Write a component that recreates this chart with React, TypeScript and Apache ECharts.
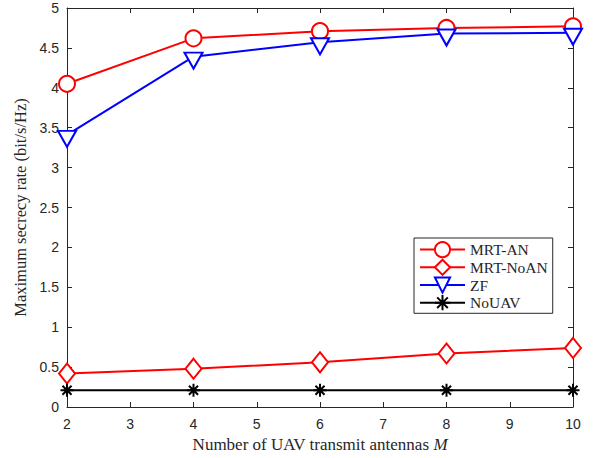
import React, { useEffect, useRef } from "react";
import * as echarts from "echarts";

// Number of UAV transmit antennas
const antennas = [2, 4, 6, 8, 10];

// Maximum secrecy rate (bit/s/Hz) per scheme
const mrtAN = [4.05, 4.62, 4.71, 4.75, 4.77];
const mrtNoAN = [0.42, 0.48, 0.56, 0.67, 0.74];
const zf = [3.41, 4.39, 4.57, 4.68, 4.69];
const noUAV = [0.21, 0.21, 0.21, 0.21, 0.21];

const seriesNames = ["MRT-AN", "MRT-NoAN", "ZF", "NoUAV"];

const AXIS_COLOR = "#262626";
const SANS = "'Liberation Sans', Arial, Helvetica, sans-serif";
const SERIF = "'Liberation Serif', 'Times New Roman', serif";

// Six-armed asterisk marker drawn as strokes
const ASTERISK =
  "path://M0,-10L0,10M-10,0L10,0M-7,-7L7,7M-7,7L7,-7";

const pairs = (ys: number[]) => antennas.map((x, i) => [x, ys[i]]);

export default function App() {
  const ref = useRef<HTMLDivElement>(null);

  useEffect(() => {
    if (!ref.current) return;
    const chart = echarts.init(ref.current, undefined, { renderer: "svg" });

    const tickAxisCommon = {
      axisLine: { show: true, onZero: false, lineStyle: { color: AXIS_COLOR, width: 1 } },
      axisTick: { show: true, inside: true, length: 5, lineStyle: { color: AXIS_COLOR } },
      splitLine: { show: false },
    };

    chart.setOption({
      animation: false,
      backgroundColor: "#ffffff",
      grid: { left: 67, right: 22, top: 8, bottom: 50, containLabel: false },
      xAxis: [
        {
          type: "value",
          min: 2,
          max: 10,
          interval: 1,
          position: "bottom",
          ...tickAxisCommon,
          axisLabel: { color: AXIS_COLOR, fontFamily: SANS, fontSize: 14, margin: 10 },
          name: "Number of UAV transmit antennas {i|M}",
          nameLocation: "middle",
          nameGap: 29,
          nameTextStyle: {
            color: AXIS_COLOR,
            fontFamily: SERIF,
            fontSize: 17,
            rich: { i: { fontFamily: SERIF, fontSize: 17, fontStyle: "italic", color: AXIS_COLOR } },
          },
        },
        {
          type: "value",
          min: 2,
          max: 10,
          interval: 1,
          position: "top",
          ...tickAxisCommon,
          axisLabel: { show: false },
        },
      ],
      yAxis: [
        {
          type: "value",
          min: 0,
          max: 5,
          interval: 0.5,
          position: "left",
          ...tickAxisCommon,
          axisLabel: { color: AXIS_COLOR, fontFamily: SANS, fontSize: 14, margin: 8 },
          name: "Maximum secrecy rate (bit/s/Hz)",
          nameLocation: "middle",
          nameGap: 34,
          nameTextStyle: { color: AXIS_COLOR, fontFamily: SERIF, fontSize: 16.5 },
        },
        {
          type: "value",
          min: 0,
          max: 5,
          interval: 0.5,
          position: "right",
          ...tickAxisCommon,
          axisLabel: { show: false },
        },
      ],
      legend: {
        orient: "vertical",
        left: 414,
        top: 238,
        padding: [3, 5, 2, 5],
        itemWidth: 45,
        itemHeight: 19,
        itemGap: 0.5,
        itemStyle: { borderWidth: 2 },
        backgroundColor: "#ffffff",
        borderColor: AXIS_COLOR,
        borderWidth: 1,
        borderRadius: 0,
        textStyle: { color: AXIS_COLOR, fontFamily: SERIF, fontSize: 15.5 },
        data: seriesNames,
      },
      series: [
        {
          name: seriesNames[0],
          type: "line",
          data: pairs(mrtAN),
          symbol: "emptyCircle",
          symbolSize: 16,
          color: "#ff0000",
          lineStyle: { color: "#ff0000", width: 2 },
          itemStyle: { color: "#ff0000", borderColor: "#ff0000", borderWidth: 2 },
        },
        {
          name: seriesNames[1],
          type: "line",
          data: pairs(mrtNoAN),
          symbol: "emptyDiamond",
          symbolSize: [16, 20],
          color: "#ff0000",
          lineStyle: { color: "#ff0000", width: 2 },
          itemStyle: { color: "#ff0000", borderColor: "#ff0000", borderWidth: 2 },
        },
        {
          name: seriesNames[2],
          type: "line",
          data: pairs(zf),
          symbol: "emptyTriangle",
          symbolSize: [18, 16],
          symbolRotate: 180,
          symbolOffset: [0, 4],
          color: "#0000ff",
          lineStyle: { color: "#0000ff", width: 2 },
          itemStyle: { color: "#0000ff", borderColor: "#0000ff", borderWidth: 2 },
        },
        {
          name: seriesNames[3],
          type: "line",
          data: pairs(noUAV),
          symbol: ASTERISK,
          symbolSize: 13,
          color: "#000000",
          lineStyle: { color: "#000000", width: 2 },
          itemStyle: { color: "#000000", borderColor: "#000000", borderWidth: 2 },
        },
      ],
    });

    return () => chart.dispose();
  }, []);

  return (
    <div
      ref={ref}
      style={{ position: "absolute", left: 0, top: 0, width: 595, height: 458 }}
    />
  );
}
